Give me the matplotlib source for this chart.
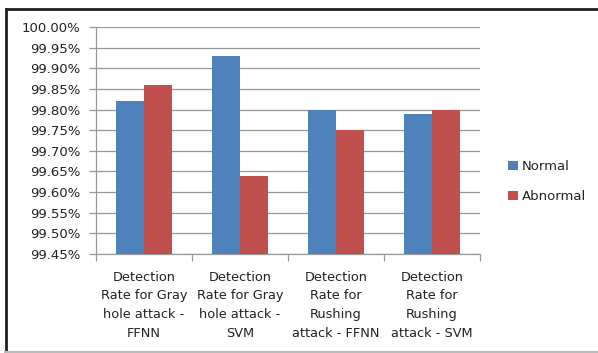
import matplotlib
matplotlib.use("Agg")
import matplotlib.pyplot as plt
from matplotlib.lines import Line2D
from matplotlib.ticker import FuncFormatter, MultipleLocator
import numpy as np

categories = [
    "Detection\nRate for Gray\nhole attack -\nFFNN",
    "Detection\nRate for Gray\nhole attack -\nSVM",
    "Detection\nRate for\nRushing\nattack - FFNN",
    "Detection\nRate for\nRushing\nattack - SVM",
]
normal = [99.82, 99.93, 99.80, 99.79]
abnormal = [99.86, 99.64, 99.75, 99.80]
series_names = ["Normal", "Abnormal"]
colors = ["#4F81BD", "#C0504D"]

W, H = 598, 353
fig = plt.figure(figsize=(W / 100, H / 100), dpi=100)
fig.patch.set_facecolor("white")

# outer frame of the chart area
fig.add_artist(Line2D([5.5 / W, 5.5 / W], [1 - 9 / H, 1 - 352 / H], transform=fig.transFigure,
                      color="#202020", lw=2.0))
fig.add_artist(Line2D([5 / W, 1.0], [1 - 8.5 / H, 1 - 8.5 / H], transform=fig.transFigure,
                      color="#202020", lw=2.0, solid_capstyle="butt"))
fig.add_artist(Line2D([5 / W, 1.0], [1 - 351.5 / H, 1 - 351.5 / H], transform=fig.transFigure,
                      color="#BBBBBB", lw=1.5))

ax = fig.add_axes([96 / W, 1 - 254 / H, (480 - 96) / W, (254 - 27) / H])

x = np.arange(len(categories))
bw = 0.29
base = 99.45
ax.bar(x - bw / 2, np.array(normal) - base, bw, bottom=base, color=colors[0],
       label=series_names[0], zorder=3)
ax.bar(x + bw / 2, np.array(abnormal) - base, bw, bottom=base, color=colors[1],
       label=series_names[1], zorder=3)

ax.set_xlim(-0.5, len(categories) - 0.5)
ax.set_ylim(99.45, 100.0)
ax.yaxis.set_major_locator(MultipleLocator(0.05))
ax.yaxis.set_major_formatter(FuncFormatter(lambda v, p: f"{v:.2f}%"))
ax.grid(axis="y", color="#989898", lw=0.9, zorder=0)

ax.set_xticks(x)
ax.set_xticklabels(categories, fontsize=9.3, linespacing=1.58, color="#222222")
ax.set_xticks(np.arange(len(categories) + 1) - 0.5, minor=True)
ax.tick_params(axis="x", which="major", length=0, pad=12)
ax.tick_params(axis="x", which="minor", length=5, color="#989898", width=0.9)
ax.tick_params(axis="y", length=5, color="#989898", width=0.9, labelsize=9.5,
               labelcolor="#222222", pad=6)

for side in ["top", "right"]:
    ax.spines[side].set_visible(False)
for side in ["left", "bottom"]:
    ax.spines[side].set_color("#989898")
    ax.spines[side].set_linewidth(0.9)

fig.legend(loc="upper left", bbox_to_anchor=(503 / W, 1 - 155 / H), frameon=False,
           fontsize=9.5, handlelength=0.7, handleheight=0.7, handletextpad=0.3,
           labelspacing=1.3, borderaxespad=0, labelcolor="#222222")

fig.savefig("out.png", dpi=100, facecolor="white")
